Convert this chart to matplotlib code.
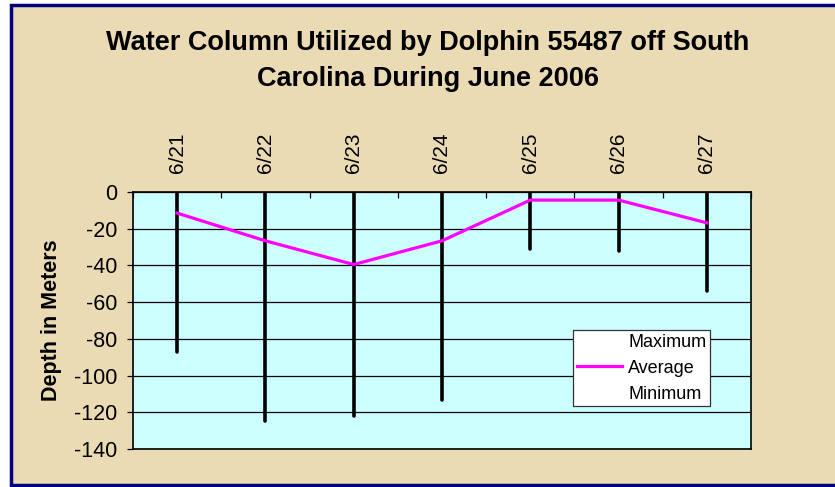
import matplotlib
matplotlib.use("Agg")
import matplotlib.pyplot as plt
from matplotlib.patches import Rectangle
from matplotlib.lines import Line2D

plt.rcParams['font.family'] = ['Liberation Sans', 'DejaVu Sans']

dates = ["6/21", "6/22", "6/23", "6/24", "6/25", "6/26", "6/27"]
maximum = [0, 0, 0, 0, 0, 0, 0]
average = [-11.5, -26.6, -39.5, -26.6, -4.4, -4.4, -16.8]
minimum = [-87, -124.5, -122, -113.5, -31, -32, -54]
yticks = [0, -20, -40, -60, -80, -100, -120, -140]

W, H = 835, 487
fig = plt.figure(figsize=(W / 100, H / 100), dpi=100, facecolor='white')

# parchment panel with navy frame
bg = Rectangle((10.5 / W, 1 - 485 / H), 1.0, (485 - 4.5) / H, transform=fig.transFigure,
               facecolor='#EBDBB4', edgecolor='#000080', linewidth=2.5, zorder=-10)
fig.patches.append(bg)

L, R, T, B = 133, 751, 192, 449
ax = fig.add_axes([L / W, 1 - B / H, (R - L) / W, (B - T) / H])
ax.set_facecolor('#CCFFFF')

x = list(range(len(dates)))
ax.vlines(x, minimum, maximum, colors='black', linewidth=2.6, capstyle='round', zorder=3)
ax.plot(x, average, color='#FF00FF', linewidth=2.3, zorder=4, solid_joinstyle='miter')

ax.set_xlim(-0.5, len(dates) - 0.5)
ax.set_ylim(-140, 0)
ax.set_yticks(yticks)
ax.set_yticklabels([str(v) for v in yticks], fontsize=15.5)
ax.yaxis.grid(True, color='black', linewidth=0.9)
ax.set_axisbelow(True)
ax.tick_params(axis='y', direction='out', length=4.5, width=0.9, pad=6.5)

ax.xaxis.tick_top()
ax.set_xticks([i - 0.5 for i in range(len(dates) + 1)])
ax.set_xticklabels([])
ax.set_xticks(x, minor=True)
ax.set_xticklabels(dates, minor=True, rotation=90, fontsize=15)
ax.tick_params(axis='x', which='major', direction='in', length=4.5, width=0.9, top=True, bottom=False)
ax.tick_params(axis='x', which='minor', length=0, pad=13.5, top=True, bottom=False)

for s in ax.spines.values():
    s.set_linewidth(1.2)
    s.set_color('black')

ax.set_ylabel('Depth in Meters', fontsize=15.5, fontweight='bold', labelpad=9)

fig.text(428 / W, 1 - 61 / H, 'Water Column Utilized by Dolphin 55487 off South\nCarolina During June 2006',
         ha='center', va='center', fontsize=19.5, fontweight='bold', linespacing=1.55)

handles = [Line2D([], [], color='none'),
           Line2D([], [], color='#FF00FF', linewidth=2.3),
           Line2D([], [], color='none')]
leg = ax.legend(handles, ['Maximum', 'Average', 'Minimum'], loc='upper left',
                bbox_to_anchor=((573 - L) / (R - L), (B - 330) / (B - T)),
                fontsize=13, frameon=True, fancybox=False, framealpha=1,
                edgecolor='#333333', borderpad=0.2, labelspacing=0.5,
                handlelength=2.5, handletextpad=0.35, borderaxespad=0)
leg.get_frame().set_linewidth(0.9)

fig.savefig('out.png', dpi=100, facecolor='white')
